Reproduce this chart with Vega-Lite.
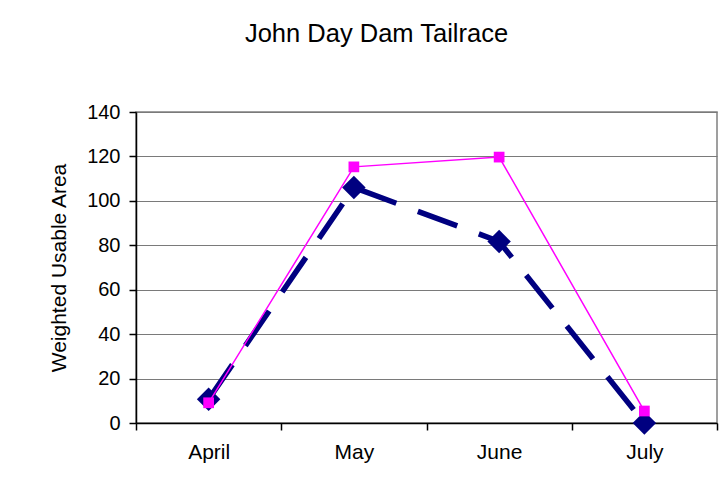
{
  "$schema": "https://vega.github.io/schema/vega-lite/v6.json",
  "width": 581,
  "height": 311,
  "autosize": "none",
  "padding": {"left": 136, "top": 112, "right": 8, "bottom": 72},
  "background": "white",
  "title": {
    "text": "John Day Dam Tailrace",
    "anchor": "middle",
    "dx": -50,
    "offset": 35,
    "baseline": "alphabetic",
    "font": "Liberation Sans",
    "fontSize": 25.5,
    "fontWeight": "normal",
    "color": "black"
  },
  "config": {
    "view": {"stroke": "#808080", "strokeWidth": 1.5},
    "axis": {
      "labelFont": "Liberation Sans",
      "titleFont": "Liberation Sans",
      "labelColor": "black",
      "titleColor": "black",
      "titleFontWeight": "normal",
      "domainColor": "black",
      "tickColor": "black",
      "domainWidth": 1.5,
      "tickWidth": 1.5
    }
  },
  "data": {
    "values": [
      {"month": "April", "series": "A", "value": 10.7},
      {"month": "May", "series": "A", "value": 106},
      {"month": "June", "series": "A", "value": 81.7},
      {"month": "July", "series": "A", "value": 0},
      {"month": "April", "series": "B", "value": 9.1},
      {"month": "May", "series": "B", "value": 115.3},
      {"month": "June", "series": "B", "value": 119.7},
      {"month": "July", "series": "B", "value": 5.4}
    ]
  },
  "encoding": {
    "x": {
      "field": "month",
      "type": "nominal",
      "sort": ["April", "May", "June", "July"],
      "scale": {"paddingInner": 0, "paddingOuter": 0},
      "axis": {
        "title": null,
        "labelAngle": 0,
        "labelFontSize": 21,
        "tickBand": "extent",
        "tickSize": 7,
        "labelPadding": 11,
        "grid": false
      }
    },
    "y": {
      "field": "value",
      "type": "quantitative",
      "scale": {"domain": [0, 140], "nice": false},
      "axis": {
        "title": "Weighted Usable Area",
        "titleFontSize": 21,
        "labelFontSize": 20,
        "values": [0, 20, 40, 60, 80, 100, 120, 140],
        "grid": true,
        "gridColor": "#7a7a7a",
        "gridWidth": 1.2,
        "tickSize": 7,
        "labelPadding": 9,
        "titlePadding": 17
      }
    },
    "color": {
      "field": "series",
      "type": "nominal",
      "scale": {"domain": ["A", "B"], "range": ["#000080", "#FF00FF"]},
      "legend": null
    }
  },
  "layer": [
    {
      "transform": [{"filter": "datum.series === 'A'"}],
      "mark": {"type": "line", "strokeWidth": 5.5, "strokeDash": [42, 23]}
    },
    {
      "transform": [{"filter": "datum.series === 'A'"}],
      "mark": {"type": "point", "shape": "diamond", "filled": true, "size": 550, "opacity": 1}
    },
    {
      "transform": [{"filter": "datum.series === 'B'"}],
      "mark": {"type": "line", "strokeWidth": 1.5}
    },
    {
      "transform": [{"filter": "datum.series === 'B'"}],
      "mark": {"type": "point", "shape": "square", "filled": true, "size": 115, "opacity": 1}
    }
  ]
}
